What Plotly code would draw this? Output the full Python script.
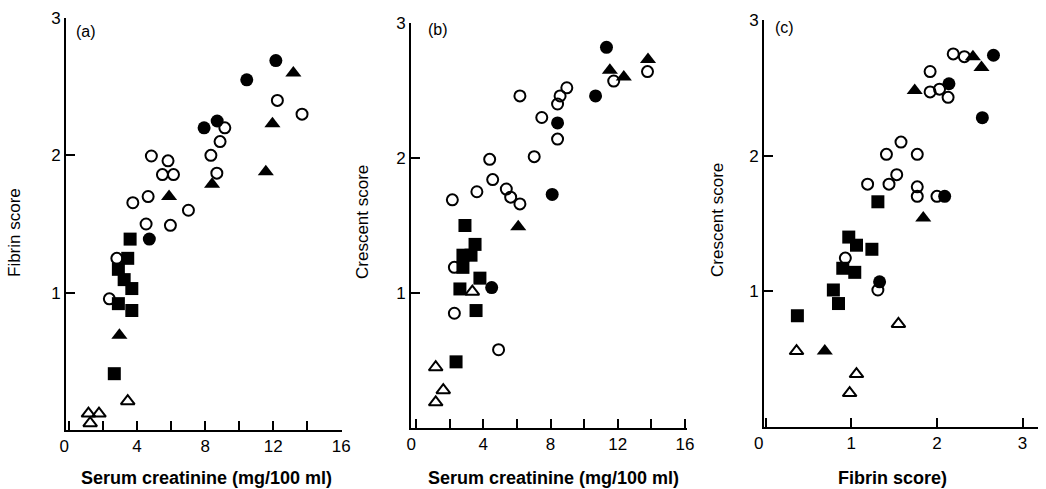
import plotly.graph_objects as go

# ---------------- Panel (a): Fibrin score vs serum creatinine ----------------
a_open_circle_x = [12.25, 13.7, 9.16, 8.88, 8.34, 8.69, 4.84, 5.82, 5.49, 6.14, 4.65, 3.75, 7.02, 4.53, 5.96, 2.81, 2.37]
a_open_circle_y = [2.40, 2.30, 2.20, 2.10, 2.00, 1.87, 1.995, 1.96, 1.86, 1.86, 1.70, 1.655, 1.60, 1.50, 1.49, 1.25, 0.955]
a_filled_circle_x = [12.16, 10.45, 7.94, 8.71, 4.72]
a_filled_circle_y = [2.69, 2.55, 2.20, 2.25, 1.39]
a_filled_triangle_x = [13.19, 11.57, 11.96, 8.41, 5.88, 2.96]
a_filled_triangle_y = [2.60, 1.88, 2.23, 1.79, 1.70, 0.69]
a_open_triangle_x = [3.45, 1.14, 1.76, 1.24]
a_open_triangle_y = [0.21, 0.12, 0.12, 0.05]
a_square_x = [3.59, 3.45, 2.90, 3.24, 3.69, 2.90, 3.69, 2.66]
a_square_y = [1.39, 1.25, 1.17, 1.095, 1.03, 0.92, 0.87, 0.41]

# ---------------- Panel (b): Crescent score vs serum creatinine ----------------
b_open_circle_x = [2.16, 3.62, 4.38, 4.56, 5.37, 5.63, 6.18, 6.18, 7.03, 7.48, 8.42, 8.57, 8.97, 8.42, 11.76, 13.77, 2.28, 2.28, 4.91]
b_open_circle_y = [1.69, 1.75, 1.99, 1.84, 1.77, 1.71, 1.66, 2.46, 2.01, 2.30, 2.40, 2.46, 2.52, 2.14, 2.57, 2.64, 1.19, 0.85, 0.58]
b_filled_circle_x = [11.33, 10.68, 8.42, 8.10, 4.50]
b_filled_circle_y = [2.82, 2.46, 2.26, 1.73, 1.04]
b_filled_triangle_x = [13.8, 11.53, 12.36, 6.08]
b_filled_triangle_y = [2.73, 2.65, 2.60, 1.49]
b_open_triangle_x = [3.35, 1.17, 1.62, 1.17]
b_open_triangle_y = [1.01, 0.45, 0.28, 0.19]
b_square_x = [2.91, 3.51, 3.27, 2.79, 2.79, 3.80, 2.61, 3.57, 2.38]
b_square_y = [1.50, 1.36, 1.28, 1.28, 1.19, 1.11, 1.03, 0.87, 0.49]

# ---------------- Panel (c): Crescent score vs fibrin score ----------------
c_open_circle_x = [2.19, 2.32, 1.92, 1.92, 2.03, 2.13, 1.58, 1.41, 1.77, 1.53, 1.19, 1.44, 1.77, 1.77, 2.00, 0.93, 1.31]
c_open_circle_y = [2.75, 2.73, 2.62, 2.47, 2.49, 2.43, 2.10, 2.01, 2.01, 1.86, 1.79, 1.79, 1.77, 1.70, 1.70, 1.245, 1.01]
c_filled_circle_x = [2.66, 2.14, 2.53, 2.09, 1.33]
c_filled_circle_y = [2.74, 2.53, 2.28, 1.70, 1.07]
c_filled_triangle_x = [2.42, 2.52, 1.74, 1.84, 0.69]
c_filled_triangle_y = [2.73, 2.65, 2.48, 1.54, 0.56]
c_open_triangle_x = [1.55, 0.36, 1.06, 0.98]
c_open_triangle_y = [0.76, 0.56, 0.39, 0.25]
c_square_x = [1.31, 0.97, 1.06, 1.24, 0.90, 1.04, 0.79, 0.85, 0.37]
c_square_y = [1.66, 1.40, 1.34, 1.31, 1.17, 1.14, 1.01, 0.91, 0.82]

creat_ticks = [0, 2, 4, 6, 8, 10, 12, 14, 16]
creat_ticktext = ["0\u00a0\u00a0", "", "4", "", "8", "", "12", "", "16"]
score_ticks = [1, 2, 3]
score_ticktext = ["1", "2", "3"]
fibrin_x_ticks = [0, 1, 2, 3]
fibrin_x_ticktext = ["0\u00a0\u00a0\u00a0", "1", "2", "3"]

W, H = 1046, 489
def px(x):
    return x / W
def py(y):
    return 1 - y / H

fig = go.Figure()

styles = {
    "open_circle": dict(symbol="circle-open", size=11, color="black", line=dict(width=2, color="black")),
    "filled_circle": dict(symbol="circle", size=13, color="black", line=dict(width=0)),
    "filled_triangle": dict(symbol="triangle-up", size=14, color="black", line=dict(width=0)),
    "open_triangle": dict(symbol="triangle-up-open", size=12, color="black", line=dict(width=2, color="black")),
    "square": dict(symbol="square", size=13, color="black", line=dict(width=0)),
}

panels = [
    ("x", "y", [(a_open_circle_x, a_open_circle_y, "open_circle"), (a_filled_circle_x, a_filled_circle_y, "filled_circle"),
                (a_filled_triangle_x, a_filled_triangle_y, "filled_triangle"), (a_open_triangle_x, a_open_triangle_y, "open_triangle"),
                (a_square_x, a_square_y, "square")]),
    ("x2", "y2", [(b_open_circle_x, b_open_circle_y, "open_circle"), (b_filled_circle_x, b_filled_circle_y, "filled_circle"),
                  (b_filled_triangle_x, b_filled_triangle_y, "filled_triangle"), (b_open_triangle_x, b_open_triangle_y, "open_triangle"),
                  (b_square_x, b_square_y, "square")]),
    ("x3", "y3", [(c_open_circle_x, c_open_circle_y, "open_circle"), (c_filled_circle_x, c_filled_circle_y, "filled_circle"),
                  (c_filled_triangle_x, c_filled_triangle_y, "filled_triangle"), (c_open_triangle_x, c_open_triangle_y, "open_triangle"),
                  (c_square_x, c_square_y, "square")]),
]
for xa, ya, groups in panels:
    for xs, ys, st in groups:
        fig.add_trace(go.Scatter(x=xs, y=ys, mode="markers", xaxis=xa, yaxis=ya,
                                 marker=styles[st], showlegend=False, cliponaxis=False, hoverinfo="x+y"))

tickfont = dict(family="Liberation Sans, Arial, sans-serif", size=17, color="black")
common = dict(showline=True, linecolor="#000000", linewidth=2, ticks="inside", ticklen=9, tickwidth=2,
              tickcolor="#000000", showgrid=False, zeroline=False, tickfont=tickfont, visible=True)
ysuffix = "\u00a0\u00a0"

fig.update_layout(
    template="none",
    width=W, height=H, margin=dict(l=0, r=0, t=0, b=0, pad=0),
    paper_bgcolor="white", plot_bgcolor="rgba(0,0,0,0)",
    xaxis=dict(domain=[px(66), px(342)], range=[-0.18, 16.05], anchor="y", tickvals=creat_ticks, ticktext=creat_ticktext, **common),
    yaxis=dict(domain=[py(430), py(18)], range=[0, 3], anchor="x", tickvals=score_ticks, ticktext=score_ticktext,
               ticksuffix=ysuffix, **common),
    xaxis2=dict(domain=[px(411), px(687)], range=[-0.3, 16.12], anchor="y2", tickvals=creat_ticks, ticktext=creat_ticktext, **common),
    yaxis2=dict(domain=[py(428), py(23)], range=[0, 3], anchor="x2", tickvals=score_ticks, ticktext=score_ticktext,
                ticksuffix=ysuffix, **common),
    xaxis3=dict(domain=[px(764), px(1038)], range=[-0.02, 3.18], anchor="y3", tickvals=fibrin_x_ticks, ticktext=fibrin_x_ticktext, **common),
    yaxis3=dict(domain=[py(427), py(20)], range=[0, 3], anchor="x3", tickvals=score_ticks, ticktext=score_ticktext,
                ticksuffix=ysuffix, **common),
)

# small break in the x-axis line of panel (c)
fig.add_shape(type="line", xref="x3", yref="y3", x0=0.605, x1=0.67, y0=0, y1=0,
              line=dict(color="white", width=4), layer="above")

title_font = dict(family="Liberation Sans, Arial, sans-serif", size=17, color="black")
bold_font = dict(family="Liberation Sans, Arial, sans-serif", size=18, color="black", weight="bold")
label_font = dict(family="Liberation Sans, Arial, sans-serif", size=16, color="black")

annots = [
    dict(text="Serum creatinine (mg/100 ml)", x=px(206), y=py(478), font=bold_font),
    dict(text="Serum creatinine (mg/100 ml)", x=px(553), y=py(478), font=bold_font),
    dict(text="Fibrin score)", x=px(892), y=py(478), font=bold_font),
    dict(text="Fibrin score", x=px(14), y=py(233), font=title_font, textangle=-90),
    dict(text="Crescent score", x=px(362), y=py(222), font=title_font, textangle=-90),
    dict(text="Crescent score", x=px(718), y=py(220), font=title_font, textangle=-90),
    dict(text="(a)", x=px(86), y=py(32), font=label_font),
    dict(text="(b)", x=px(438), y=py(30), font=label_font),
    dict(text="(c)", x=px(784), y=py(28), font=label_font),
]
for a in annots:
    fig.add_annotation(xref="paper", yref="paper", showarrow=False, xanchor="center", yanchor="middle", **a)

fig.write_html("out.html", config={"displayModeBar": False, "staticPlot": True},
               post_script="document.body.style.margin='0';document.body.style.overflow='hidden';")
